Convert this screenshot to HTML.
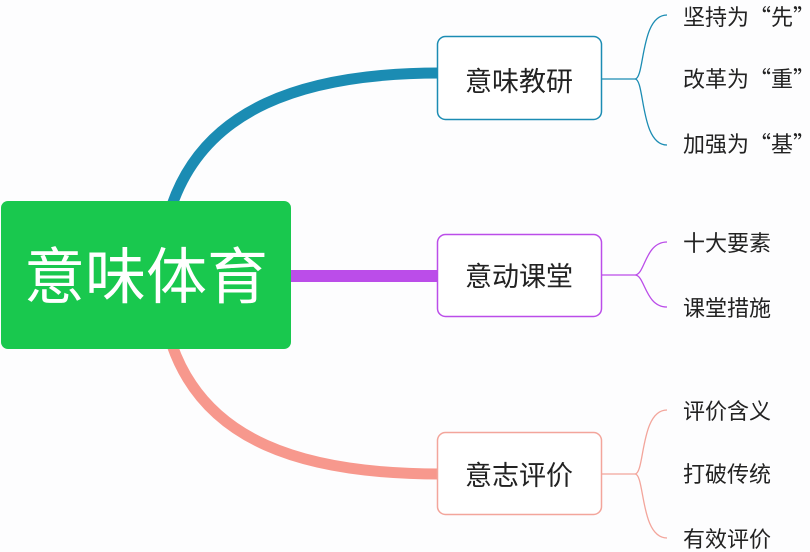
<!DOCTYPE html>
<html><head><meta charset="utf-8"><style>
html,body{margin:0;padding:0;background:#fff;}
svg{display:block}
text{font-family:"Liberation Sans","Noto Sans CJK SC",sans-serif;}
.q{font-family:"Noto Sans CJK SC",sans-serif;}
</style></head><body>
<svg width="810" height="552" viewBox="0 0 810 552" xmlns="http://www.w3.org/2000/svg">
<rect width="810" height="552" fill="#fdfdfe"/>
<path d="M172 205 C 205 110, 300 73, 440 73" fill="none" stroke="#1b8cb3" stroke-width="11"/>
<path d="M172 345 C 205 440, 300 474, 440 474" fill="none" stroke="#f7988d" stroke-width="11"/>
<rect x="288" y="270" width="152" height="12" fill="#bb4de9"/>
<rect x="1" y="201" width="290" height="148" rx="7" fill="#19c84e"/>
<text x="146" y="298" font-size="61" fill="#fff" text-anchor="middle">意味体育</text>
<rect x="437.5" y="36.5" width="164" height="83" rx="8" fill="#fff" stroke="#1b8cb3" stroke-width="1.5"/>
<text x="519" y="91" font-size="27" fill="#222" text-anchor="middle">意味教研</text>
<rect x="437.5" y="234.5" width="164" height="82" rx="8" fill="#fff" stroke="#bb4de9" stroke-width="1.5"/>
<text x="519" y="286" font-size="27" fill="#222" text-anchor="middle">意动课堂</text>
<rect x="437.5" y="432.5" width="164" height="82" rx="8" fill="#fff" stroke="#f3a59b" stroke-width="1.5"/>
<text x="519" y="485" font-size="27" fill="#222" text-anchor="middle">意志评价</text>
<g fill="none" stroke="#1b8cb3" stroke-width="1.3">
<path d="M602 79 H635"/>
<path d="M667 15 C 640 15, 645 79, 635 79 C 645 79, 640 145, 667 145"/>
</g>
<g fill="none" stroke="#bb4de9" stroke-width="1.3">
<path d="M602 275 H635"/>
<path d="M667 242 C 645 242, 645 275, 635 275 C 645 275, 645 307, 667 307"/>
</g>
<g fill="none" stroke="#f3a59b" stroke-width="1.3">
<path d="M602 474 H635"/>
<path d="M667 410 C 640 410, 645 474, 635 474 C 645 474, 640 538, 667 538"/>
</g>
<g font-size="22" fill="#222">
<text x="683" y="25">坚持为<tspan class="q">“先”</tspan></text>
<text x="683" y="87">改革为<tspan class="q">“重”</tspan></text>
<text x="683" y="152">加强为<tspan class="q">“基”</tspan></text>
<text x="683" y="251">十大要素</text>
<text x="683" y="316">课堂措施</text>
<text x="683" y="419">评价含义</text>
<text x="683" y="482">打破传统</text>
<text x="683" y="547">有效评价</text>
</g>
</svg>
</body></html>
